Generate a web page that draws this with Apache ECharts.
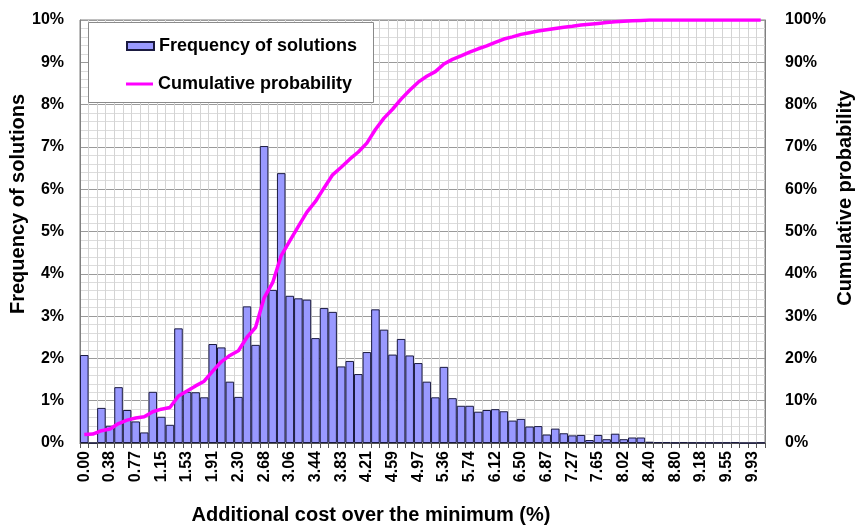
<!DOCTYPE html>
<html><head><meta charset="utf-8">
<script src="https://cdn.jsdelivr.net/npm/echarts@6/dist/echarts.min.js"></script>
<style>html,body{margin:0;padding:0;background:#fff}#c{width:857px;height:532px}</style>
</head><body><div id="c"></div>
<script>
var categories = ["0.00","0.13","0.26","0.38","0.51","0.64","0.77","0.89","1.02","1.15",
"1.28","1.40","1.53","1.66","1.79","1.91","2.04","2.17","2.30","2.42",
"2.55","2.68","2.81","2.93","3.06","3.19","3.32","3.44","3.57","3.70",
"3.83","3.96","4.08","4.21","4.34","4.47","4.59","4.72","4.85","4.97",
"5.10","5.23","5.36","5.49","5.61","5.74","5.87","6.00","6.12","6.25",
"6.38","6.50","6.63","6.75","6.87","7.00","7.14","7.27","7.40","7.52",
"7.65","7.77","7.90","8.02","8.15","8.27","8.40","8.53","8.67","8.80",
"8.93","9.05","9.18","9.30","9.43","9.55","9.68","9.80","9.93","10.06"];
var frequency = [2.08,0.00,0.83,0.41,1.32,0.78,0.51,0.25,1.21,0.62,
0.43,2.71,1.21,1.20,1.08,2.34,2.26,1.45,1.09,3.23,
2.32,7.02,3.62,6.38,3.48,3.42,3.39,2.48,3.19,3.10,
1.81,1.94,1.63,2.15,3.16,2.68,2.09,2.46,2.07,1.89,
1.45,1.08,1.80,1.06,0.88,0.88,0.74,0.78,0.80,0.75,
0.53,0.57,0.39,0.40,0.20,0.34,0.23,0.18,0.19,0.07,
0.19,0.09,0.22,0.09,0.13,0.13,0.03,0.02,0.02,0.01,
0.02,0.01,0.01,0.01,0.01,0.01,0.02,0.00,0.00,0.01];
var cumulative = [2.0,2.1,2.9,3.3,4.6,5.4,5.9,6.2,7.4,8.0,
8.4,11.1,12.3,13.5,14.6,17.0,19.2,20.7,21.8,25.0,
27.3,34.3,37.9,44.3,47.8,51.2,54.6,57.1,60.3,63.4,
65.2,67.1,68.8,70.9,74.1,76.8,78.9,81.3,83.4,85.3,
86.7,87.8,89.6,90.7,91.5,92.4,93.2,93.9,94.7,95.5,
96.0,96.6,97.0,97.4,97.7,98.0,98.3,98.5,98.8,99.0,
99.2,99.4,99.6,99.7,99.8,99.9,100,100,100,100,
100,100,100,100,100,100,100,100,100,100];
var leftTicks = "%";   // tick label suffix
var seriesNames = ["Frequency of solutions","Cumulative probability"];
var axisTitles = {x:"Additional cost over the minimum (%)", yl:"Frequency of solutions", yr:"Cumulative probability"};

var FONT = "'Liberation Sans', Arial, sans-serif";
var chart = echarts.init(document.getElementById('c'), null, {renderer:'canvas'});
var lab = {fontFamily:FONT, fontWeight:'bold', fontSize:16, color:'#000'};
var legLab = {fontFamily:FONT, fontWeight:'bold', fontSize:18, color:'#000'};
chart.setOption({
  animation:false,
  backgroundColor:'#fff',
  grid:{left:80, right:92, top:20, bottom:89, show:true, borderColor:'#808080', borderWidth:1},
  legend:[
    {data:[seriesNames[0]], left:126, top:37, padding:0, itemWidth:27, itemHeight:8, itemGap:0, z:10,
     textStyle:legLab, icon:'rect'},
    {data:[seriesNames[1]], left:126, top:75, padding:0, itemWidth:27, itemHeight:3, itemGap:0, z:10,
     textStyle:legLab, icon:'rect'}
  ],
  xAxis:{type:'category', data:categories, boundaryGap:true,
    axisLine:{show:true, lineStyle:{color:'#555'}},
    axisTick:{show:true, interval:0, length:5, inside:false, lineStyle:{color:'#555'}},
    axisLabel:Object.assign({interval:2, rotate:90, margin:8}, lab),
    splitLine:{show:true, interval:0, lineStyle:{color:'#d4d4d4', width:1}}
  },
  yAxis:[
    {type:'value', min:0, max:10, interval:1, position:'left',
     axisLine:{show:true, lineStyle:{color:'#808080'}},
     axisTick:{show:false},
     axisLabel:Object.assign({formatter:'{value}' + leftTicks, margin:16}, lab),
     splitLine:{show:true, lineStyle:{color:'#9a9a9a', width:1}},
     minorTick:{show:false, splitNumber:5},
     minorSplitLine:{show:true, lineStyle:{color:'#dcdcdc', width:1}}
    },
    {type:'value', min:0, max:100, interval:10, position:'right',
     axisLine:{show:true, lineStyle:{color:'#808080'}},
     axisTick:{show:false},
     axisLabel:Object.assign({formatter:'{value}%', margin:20}, lab),
     splitLine:{show:false}
    }
  ],
  graphic:[
    {type:'rect', left:88, top:22, z:5, shape:{width:285, height:80},
     style:{fill:'#fff', stroke:'#8a8a8a', lineWidth:1}},
    {type:'text', x:18, y:204, rotation:Math.PI/2, z:5,
     style:{text:axisTitles.yl, font:'bold 20px ' + FONT, fill:'#000', align:'center', verticalAlign:'middle'}},
    {type:'text', x:845, y:198, rotation:Math.PI/2, z:5,
     style:{text:axisTitles.yr, font:'bold 20px ' + FONT, fill:'#000', align:'center', verticalAlign:'middle'}},
    {type:'text', x:371, y:515, z:5,
     style:{text:axisTitles.x, font:'bold 20px ' + FONT, fill:'#000', align:'center', verticalAlign:'middle'}}
  ],
  series:[
    {name:seriesNames[0], type:'bar', data:frequency, barCategoryGap:'0%', barGap:'0%', yAxisIndex:0,
     itemStyle:{color:'#9999ff', borderColor:'#1a1a40', borderWidth:1}},
    {name:seriesNames[1], type:'line', data:cumulative, yAxisIndex:1, showSymbol:false, symbol:'none',
     smooth:false, lineStyle:{color:'#ff00ff', width:3.5}, itemStyle:{color:'#ff00ff'}}
  ]
});
</script></body></html>
